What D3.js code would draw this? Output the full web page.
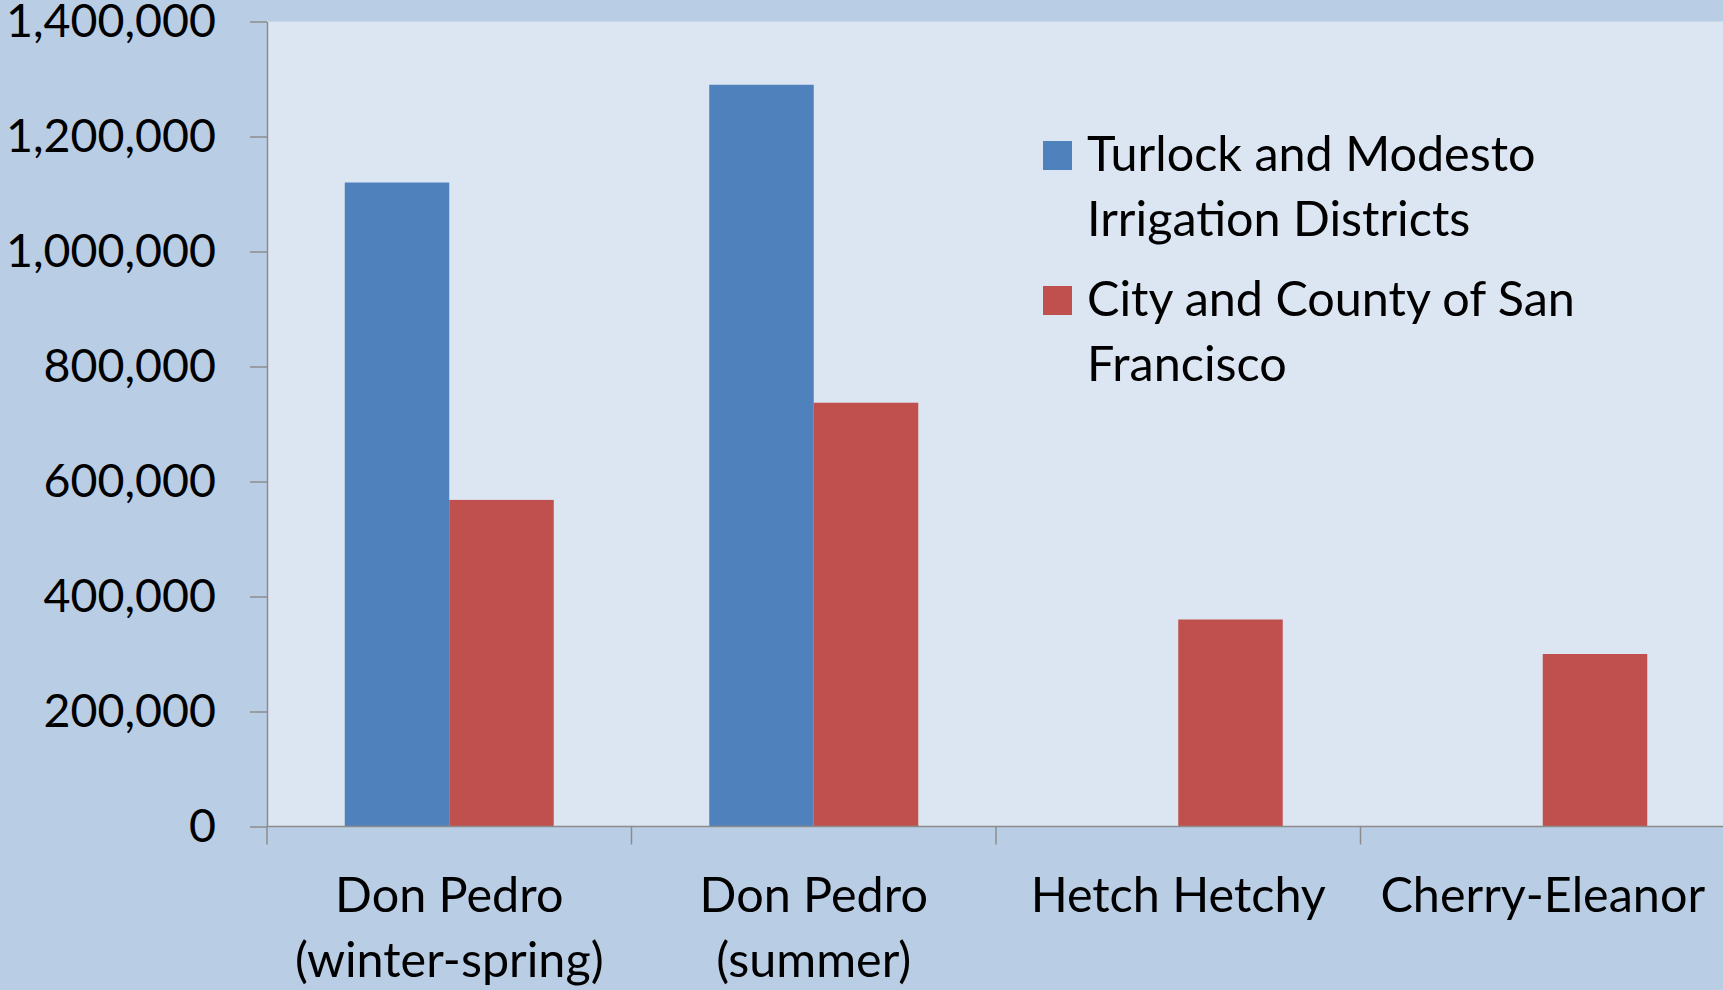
<!DOCTYPE html>
<html>
<head>
<meta charset="utf-8">
<script src="https://cdn.jsdelivr.net/npm/d3@7"></script>
<style>
  html, body { margin: 0; padding: 0; background: #B9CDE5; }
  svg { display: block; }
  text { font-family: Lato, "Open Sans", sans-serif; fill: #000; }
</style>
</head>
<body>
<div id="chart"></div>
<script>
// reservoir storage by owner
var categories = ["Don Pedro (winter-spring)", "Don Pedro (summer)", "Hetch Hetchy", "Cherry-Eleanor"];
var categoryLines = [["Don Pedro", "(winter-spring)"], ["Don Pedro", "(summer)"], ["Hetch Hetchy"], ["Cherry-Eleanor"]];
var seriesNames = ["Turlock and Modesto Irrigation Districts", "City and County of San Francisco"];
var seriesLines = [["Turlock and Modesto", "Irrigation Districts"], ["City and County of San", "Francisco"]];
var tmidValues = [1120000, 1290000, 0, 0];
var ccsfValues = [568000, 737000, 360000, 300000];
var yTicks = [0, 200000, 400000, 600000, 800000, 1000000, 1200000, 1400000];
var colors = ["#4F81BD", "#C0504D"];

var width = 1723, height = 990;
var plotLeft = 267, plotRight = 1725, plotTop = 21.5, plotBottom = 826.5;
var fontSize = 48.5;
var yFontSize = 46.5;

var svg = d3.select("#chart")
  .append("svg")
  .attr("width", width)
  .attr("height", height)
;

//chart background
svg.append("rect")
  .attr("width", width)
  .attr("height", height)
  .attr("fill", "#B9CDE5")
;

var x0 = d3.scaleBand()
  .domain(categories)
  .range([plotLeft, plotRight])
  .padding(0)
;

var x1 = d3.scaleBand()
  .domain(seriesNames)
  .range([0, x0.bandwidth()])
  .paddingInner(0)
  .paddingOuter(0.744)
;

var y = d3.scaleLinear()
  .domain([0, 1400000])
  .range([plotBottom, plotTop])
;

//plot area
svg.append("rect")
  .attr("x", plotLeft)
  .attr("y", y(1400000))
  .attr("width", plotRight - plotLeft)
  .attr("height", y(0) - y(1400000))
  .attr("fill", "#DCE6F2")
;

var rows = categories.map(function(c, i) {
  return {cat: c, values: [tmidValues[i], ccsfValues[i]]};
});

var groups = svg.selectAll(".group")
  .data(rows)
  .enter().append("g")
  .attr("class", "group")
  .attr("transform", function(d) { return "translate(" + x0(d.cat) + ",0)"; })
;

groups.selectAll("rect")
  .data(function(d) {
    return seriesNames.map(function(s, j) { return {series: s, value: d.values[j], j: j}; });
  })
  .enter().append("rect")
  .filter(function(d) { return d.value > 0; })
  .attr("x", function(d) { return x1(d.series); })
  .attr("y", function(d) { return y(d.value); })
  .attr("width", x1.bandwidth())
  .attr("height", function(d) { return y(0) - y(d.value); })
  .attr("fill", function(d) { return colors[d.j]; })
;

//y axis
var yAxis = svg.append("g")
  .attr("transform", "translate(" + plotLeft + ",0)")
  .call(d3.axisLeft(y)
    .tickValues(yTicks)
    .tickFormat(d3.format(","))
    .tickSizeInner(17)
    .tickSizeOuter(0)
    .tickPadding(34))
;
yAxis.selectAll("line, path").attr("stroke", "#8C8C8C").attr("stroke-width", 1.5);
yAxis.selectAll("text")
  .style("font-family", "Lato, 'Open Sans', sans-serif")
  .style("font-size", yFontSize + "px")
  .attr("fill", "#000")
;

//x axis line and boundary ticks
var bounds = categories.map(function(c) { return x0(c); }).concat([x0.range()[1]]);
svg.append("line")
  .attr("x1", plotLeft)
  .attr("x2", plotRight)
  .attr("y1", y(0))
  .attr("y2", y(0))
  .attr("stroke", "#8C8C8C")
  .attr("stroke-width", 1.5)
;
svg.selectAll(".xtick")
  .data(bounds)
  .enter().append("line")
  .attr("class", "xtick")
  .attr("x1", function(d) { return d; })
  .attr("x2", function(d) { return d; })
  .attr("y1", y(0))
  .attr("y2", y(0) + 18)
  .attr("stroke", "#8C8C8C")
  .attr("stroke-width", 1.5)
;

//category labels
var xLabels = svg.selectAll(".xlabel")
  .data(categories)
  .enter().append("text")
  .attr("class", "xlabel")
  .attr("text-anchor", "middle")
  .style("font-size", fontSize + "px")
;
xLabels.selectAll("tspan")
  .data(function(d, i) { return categoryLines[i].map(function(t) { return {t: t, cat: d}; }); })
  .enter().append("tspan")
  .attr("x", function(d) { return x0(d.cat) + x0.bandwidth() / 2; })
  .attr("y", function(d, k) { return 912 + k * 65; })
  .text(function(d) { return d.t; })
;

//legend
var legend = svg.selectAll(".legend")
  .data(seriesNames)
  .enter().append("g")
  .attr("class", "legend")
  .attr("transform", function(d, i) { return "translate(1043," + (141 + i * 145) + ")"; })
;
legend.append("rect")
  .attr("width", 29)
  .attr("height", 29)
  .attr("fill", function(d, i) { return colors[i]; })
;
legend.append("text")
  .style("font-size", fontSize + "px")
  .selectAll("tspan")
  .data(function(d, i) { return seriesLines[i]; })
  .enter().append("tspan")
  .attr("x", 44)
  .attr("y", function(d, k) { return 30 + k * 65; })
  .text(function(d) { return d; })
;
</script>
</body>
</html>
